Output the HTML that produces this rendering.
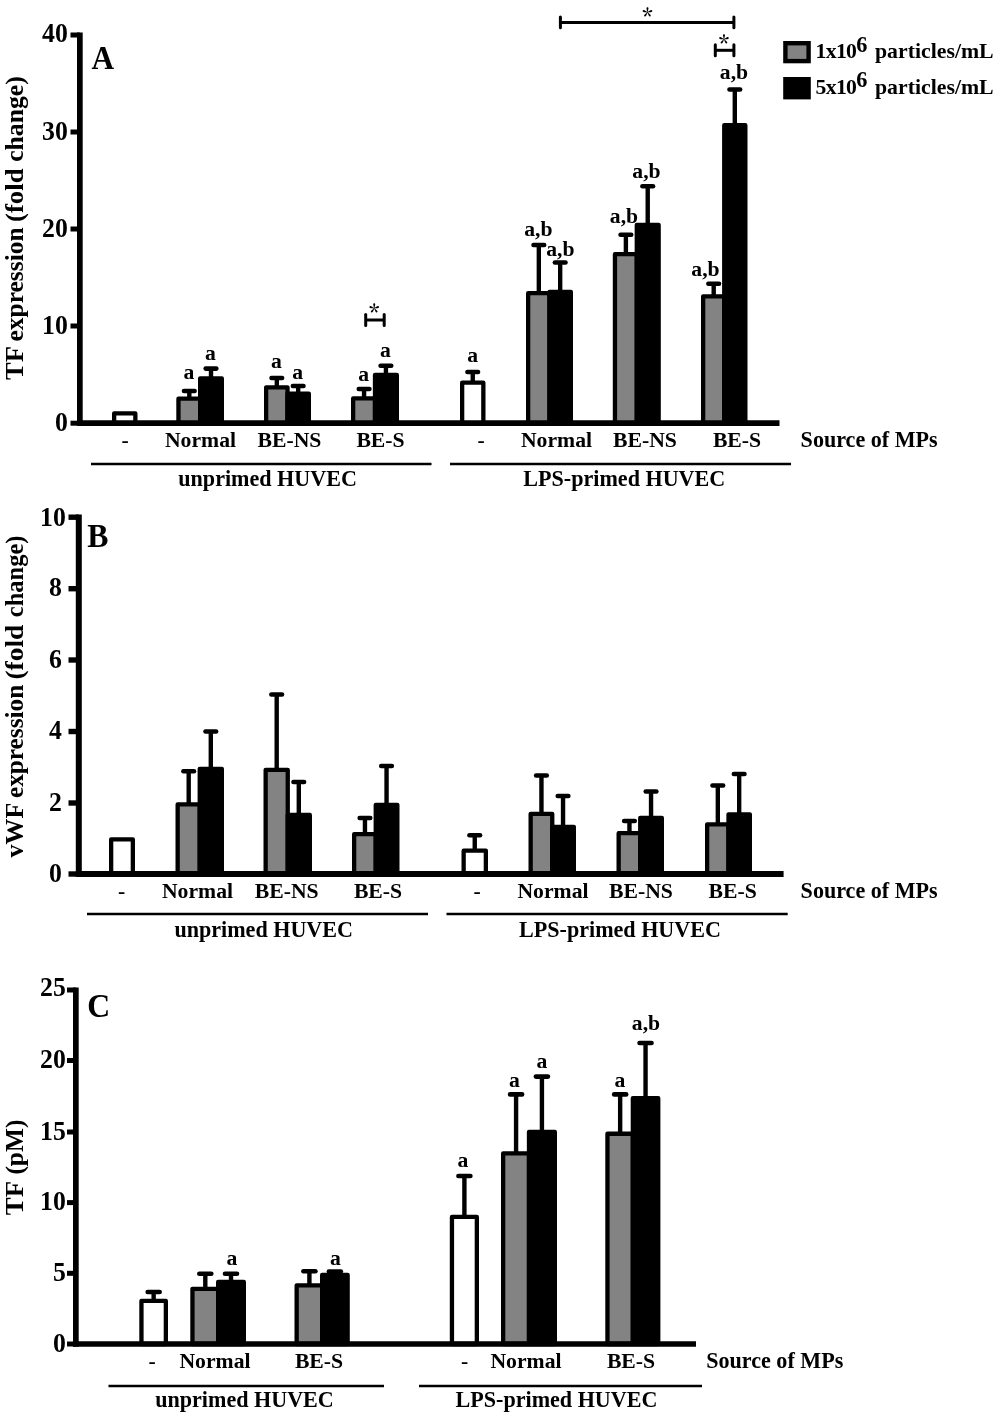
<!DOCTYPE html>
<html lang="en">
<head>
<meta charset="utf-8">
<title>Figure</title>
<style>
html,body{margin:0;padding:0;background:#fff;}
body{width:1000px;height:1418px;overflow:hidden;}
svg{display:block;filter:blur(0.45px);}
svg text{font-family:"Liberation Serif", serif;font-weight:bold;fill:#000;}
</style>
</head>
<body>
<svg width="1000" height="1418" viewBox="0 0 1000 1418">
<rect width="1000" height="1418" fill="#fff"/>
<rect x="114.15" y="413.45" width="21.20" height="9.75" fill="#fff" stroke="#000" stroke-width="4.3" stroke-linejoin="round"/>
<line x1="189.30" y1="391.00" x2="189.30" y2="397.50" stroke="#000" stroke-width="4.4"/>
<line x1="184.00" y1="391.00" x2="194.60" y2="391.00" stroke="#000" stroke-width="4.6" stroke-linecap="round"/>
<line x1="211.00" y1="368.60" x2="211.00" y2="377.30" stroke="#000" stroke-width="4.4"/>
<line x1="205.70" y1="368.60" x2="216.30" y2="368.60" stroke="#000" stroke-width="4.6" stroke-linecap="round"/>
<rect x="178.45" y="398.65" width="21.70" height="24.55" fill="#838383" stroke="#000" stroke-width="4.3" stroke-linejoin="round"/>
<rect x="200.15" y="378.45" width="21.70" height="44.75" fill="#000" stroke="#000" stroke-width="4.3" stroke-linejoin="round"/>
<text x="188.80" y="379.10" font-size="21.7" text-anchor="middle">a</text>
<text x="210.50" y="359.50" font-size="21.7" text-anchor="middle">a</text>
<line x1="276.82" y1="378.00" x2="276.82" y2="386.20" stroke="#000" stroke-width="4.4"/>
<line x1="271.52" y1="378.00" x2="282.12" y2="378.00" stroke="#000" stroke-width="4.6" stroke-linecap="round"/>
<line x1="298.18" y1="386.00" x2="298.18" y2="392.50" stroke="#000" stroke-width="4.4"/>
<line x1="292.88" y1="386.00" x2="303.48" y2="386.00" stroke="#000" stroke-width="4.6" stroke-linecap="round"/>
<rect x="266.15" y="387.35" width="21.35" height="35.85" fill="#838383" stroke="#000" stroke-width="4.3" stroke-linejoin="round"/>
<rect x="287.50" y="393.65" width="21.35" height="29.55" fill="#000" stroke="#000" stroke-width="4.3" stroke-linejoin="round"/>
<text x="276.32" y="368.30" font-size="21.7" text-anchor="middle">a</text>
<text x="297.68" y="378.60" font-size="21.7" text-anchor="middle">a</text>
<line x1="364.07" y1="389.00" x2="364.07" y2="397.30" stroke="#000" stroke-width="4.4"/>
<line x1="358.77" y1="389.00" x2="369.38" y2="389.00" stroke="#000" stroke-width="4.6" stroke-linecap="round"/>
<line x1="385.93" y1="365.70" x2="385.93" y2="373.80" stroke="#000" stroke-width="4.4"/>
<line x1="380.62" y1="365.70" x2="391.23" y2="365.70" stroke="#000" stroke-width="4.6" stroke-linecap="round"/>
<rect x="353.15" y="398.45" width="21.85" height="24.75" fill="#838383" stroke="#000" stroke-width="4.3" stroke-linejoin="round"/>
<rect x="375.00" y="374.95" width="21.85" height="48.25" fill="#000" stroke="#000" stroke-width="4.3" stroke-linejoin="round"/>
<text x="363.57" y="380.70" font-size="21.7" text-anchor="middle">a</text>
<text x="385.43" y="357.00" font-size="21.7" text-anchor="middle">a</text>
<line x1="472.75" y1="372.00" x2="472.75" y2="381.50" stroke="#000" stroke-width="4.4"/>
<line x1="467.45" y1="372.00" x2="478.05" y2="372.00" stroke="#000" stroke-width="4.6" stroke-linecap="round"/>
<rect x="462.15" y="382.65" width="21.20" height="40.55" fill="#fff" stroke="#000" stroke-width="4.3" stroke-linejoin="round"/>
<text x="472.75" y="362.00" font-size="21.7" text-anchor="middle">a</text>
<line x1="538.83" y1="245.00" x2="538.83" y2="292.00" stroke="#000" stroke-width="4.4"/>
<line x1="533.52" y1="245.00" x2="544.13" y2="245.00" stroke="#000" stroke-width="4.6" stroke-linecap="round"/>
<line x1="560.17" y1="262.50" x2="560.17" y2="290.70" stroke="#000" stroke-width="4.4"/>
<line x1="554.87" y1="262.50" x2="565.48" y2="262.50" stroke="#000" stroke-width="4.6" stroke-linecap="round"/>
<rect x="528.15" y="293.15" width="21.35" height="130.05" fill="#838383" stroke="#000" stroke-width="4.3" stroke-linejoin="round"/>
<rect x="549.50" y="291.85" width="21.35" height="131.35" fill="#000" stroke="#000" stroke-width="4.3" stroke-linejoin="round"/>
<text x="538.33" y="236.20" font-size="21.7" text-anchor="middle">a,b</text>
<text x="560.30" y="256.20" font-size="21.7" text-anchor="middle">a,b</text>
<line x1="625.88" y1="234.80" x2="625.88" y2="253.00" stroke="#000" stroke-width="4.4"/>
<line x1="620.57" y1="234.80" x2="631.18" y2="234.80" stroke="#000" stroke-width="4.6" stroke-linecap="round"/>
<line x1="647.72" y1="186.30" x2="647.72" y2="223.80" stroke="#000" stroke-width="4.4"/>
<line x1="642.42" y1="186.30" x2="653.02" y2="186.30" stroke="#000" stroke-width="4.6" stroke-linecap="round"/>
<rect x="614.95" y="254.15" width="21.85" height="169.05" fill="#838383" stroke="#000" stroke-width="4.3" stroke-linejoin="round"/>
<rect x="636.80" y="224.95" width="21.85" height="198.25" fill="#000" stroke="#000" stroke-width="4.3" stroke-linejoin="round"/>
<text x="624.00" y="222.50" font-size="21.7" text-anchor="middle">a,b</text>
<text x="646.50" y="178.00" font-size="21.7" text-anchor="middle">a,b</text>
<line x1="713.70" y1="283.70" x2="713.70" y2="295.20" stroke="#000" stroke-width="4.4"/>
<line x1="708.40" y1="283.70" x2="719.00" y2="283.70" stroke="#000" stroke-width="4.6" stroke-linecap="round"/>
<line x1="734.80" y1="89.50" x2="734.80" y2="124.00" stroke="#000" stroke-width="4.4"/>
<line x1="729.50" y1="89.50" x2="740.10" y2="89.50" stroke="#000" stroke-width="4.6" stroke-linecap="round"/>
<rect x="703.15" y="296.35" width="21.10" height="126.85" fill="#838383" stroke="#000" stroke-width="4.3" stroke-linejoin="round"/>
<rect x="724.25" y="125.15" width="21.10" height="298.05" fill="#000" stroke="#000" stroke-width="4.3" stroke-linejoin="round"/>
<text x="705.50" y="275.80" font-size="21.7" text-anchor="middle">a,b</text>
<text x="734.00" y="79.00" font-size="21.7" text-anchor="middle">a,b</text>
<line x1="79.85" y1="32.50" x2="79.85" y2="426.05" stroke="#000" stroke-width="5.7"/>
<line x1="77.00" y1="423.20" x2="779.50" y2="423.20" stroke="#000" stroke-width="5.7"/>
<line x1="70.50" y1="35.00" x2="79.85" y2="35.00" stroke="#000" stroke-width="5.0"/>
<text transform="translate(67.80,41.70) scale(0.94,1)" font-size="27.4" text-anchor="end">40</text>
<line x1="70.50" y1="132.00" x2="79.85" y2="132.00" stroke="#000" stroke-width="5.0"/>
<text transform="translate(67.80,139.60) scale(0.94,1)" font-size="27.4" text-anchor="end">30</text>
<line x1="70.50" y1="229.00" x2="79.85" y2="229.00" stroke="#000" stroke-width="5.0"/>
<text transform="translate(67.80,236.60) scale(0.94,1)" font-size="27.4" text-anchor="end">20</text>
<line x1="70.50" y1="326.00" x2="79.85" y2="326.00" stroke="#000" stroke-width="5.0"/>
<text transform="translate(67.80,333.60) scale(0.94,1)" font-size="27.4" text-anchor="end">10</text>
<line x1="70.50" y1="423.20" x2="79.85" y2="423.20" stroke="#000" stroke-width="5.0"/>
<text transform="translate(67.80,430.80) scale(0.94,1)" font-size="27.4" text-anchor="end">0</text>
<text transform="translate(22.90,379.96) rotate(-90) scale(1.0266,1)" font-size="25.8">TF</text>
<text transform="translate(22.90,341.46) rotate(-90) scale(0.9869,1)" font-size="25.8">expression</text>
<text transform="translate(22.90,221.97) rotate(-90) scale(1.0375,1)" font-size="25.8">(fold</text>
<text transform="translate(22.90,161.77) rotate(-90) scale(0.9940,1)" font-size="25.8">change)</text>
<text transform="translate(91.50,69.00) scale(0.935,1)" font-size="33.5" text-anchor="start">A</text>
<line x1="365.70" y1="320.00" x2="384.20" y2="320.00" stroke="#000" stroke-width="3.0"/>
<line x1="365.70" y1="314.60" x2="365.70" y2="325.40" stroke="#000" stroke-width="3.0" stroke-linecap="round"/>
<line x1="384.20" y1="314.60" x2="384.20" y2="325.40" stroke="#000" stroke-width="3.0" stroke-linecap="round"/>
<text x="369.04" y="321.02" font-size="21.5" style="font-family:'Noto Serif CJK SC','Liberation Serif',serif">*</text>
<line x1="560.40" y1="22.40" x2="733.90" y2="22.40" stroke="#000" stroke-width="3.0"/>
<line x1="560.40" y1="17.00" x2="560.40" y2="27.80" stroke="#000" stroke-width="3.0" stroke-linecap="round"/>
<line x1="733.90" y1="17.00" x2="733.90" y2="27.80" stroke="#000" stroke-width="3.0" stroke-linecap="round"/>
<text x="642.14" y="24.72" font-size="21.5" style="font-family:'Noto Serif CJK SC','Liberation Serif',serif">*</text>
<line x1="715.30" y1="50.30" x2="733.90" y2="50.30" stroke="#000" stroke-width="3.0"/>
<line x1="715.30" y1="44.80" x2="715.30" y2="55.80" stroke="#000" stroke-width="3.0" stroke-linecap="round"/>
<line x1="733.90" y1="44.80" x2="733.90" y2="55.80" stroke="#000" stroke-width="3.0" stroke-linecap="round"/>
<text x="718.74" y="51.52" font-size="21.5" style="font-family:'Noto Serif CJK SC','Liberation Serif',serif">*</text>
<text x="125.00" y="446.70" font-size="21.7" text-anchor="middle">-</text>
<text x="200.50" y="446.70" font-size="21.7" text-anchor="middle">Normal</text>
<text x="289.50" y="446.70" font-size="21.7" text-anchor="middle">BE-NS</text>
<text x="380.50" y="446.70" font-size="21.7" text-anchor="middle">BE-S</text>
<text x="481.00" y="446.70" font-size="21.7" text-anchor="middle">-</text>
<text x="556.50" y="446.70" font-size="21.7" text-anchor="middle">Normal</text>
<text x="645.00" y="446.70" font-size="21.7" text-anchor="middle">BE-NS</text>
<text x="737.00" y="446.70" font-size="21.7" text-anchor="middle">BE-S</text>
<text x="800.60" y="446.70" font-size="22.1" text-anchor="start">Source of MPs</text>
<line x1="91.00" y1="464.00" x2="431.50" y2="464.00" stroke="#000" stroke-width="2.6"/>
<line x1="450.00" y1="464.00" x2="791.00" y2="464.00" stroke="#000" stroke-width="2.6"/>
<text x="267.60" y="485.90" font-size="22.1" text-anchor="middle">unprimed HUVEC</text>
<text x="624.30" y="485.60" font-size="22.1" text-anchor="middle">LPS-primed HUVEC</text>
<rect x="785.4" y="43.2" width="23.2" height="17.9" fill="#838383" stroke="#000" stroke-width="4.4"/>
<rect x="783.2" y="77" width="27.6" height="22.4" fill="#000"/>
<text x="815.4" y="58.3" font-size="21.7" letter-spacing="-0.6">1x10</text>
<text x="856.3" y="51.5" font-size="22.3">6</text>
<text x="875" y="58.3" font-size="21.8">particles/mL</text>
<text x="815.4" y="94" font-size="21.7" letter-spacing="-0.6">5x10</text>
<text x="856.3" y="87.2" font-size="22.3">6</text>
<text x="875" y="94" font-size="21.8">particles/mL</text>
<rect x="111.15" y="839.45" width="21.70" height="34.55" fill="#fff" stroke="#000" stroke-width="4.3" stroke-linejoin="round"/>
<line x1="188.70" y1="771.30" x2="188.70" y2="803.30" stroke="#000" stroke-width="4.4"/>
<line x1="183.40" y1="771.30" x2="194.00" y2="771.30" stroke="#000" stroke-width="4.6" stroke-linecap="round"/>
<line x1="210.80" y1="731.50" x2="210.80" y2="767.70" stroke="#000" stroke-width="4.4"/>
<line x1="205.50" y1="731.50" x2="216.10" y2="731.50" stroke="#000" stroke-width="4.6" stroke-linecap="round"/>
<rect x="177.65" y="804.45" width="22.10" height="69.55" fill="#838383" stroke="#000" stroke-width="4.3" stroke-linejoin="round"/>
<rect x="199.75" y="768.85" width="22.10" height="105.15" fill="#000" stroke="#000" stroke-width="4.3" stroke-linejoin="round"/>
<line x1="276.70" y1="694.50" x2="276.70" y2="768.70" stroke="#000" stroke-width="4.4"/>
<line x1="271.40" y1="694.50" x2="282.00" y2="694.50" stroke="#000" stroke-width="4.6" stroke-linecap="round"/>
<line x1="298.80" y1="782.00" x2="298.80" y2="813.80" stroke="#000" stroke-width="4.4"/>
<line x1="293.50" y1="782.00" x2="304.10" y2="782.00" stroke="#000" stroke-width="4.6" stroke-linecap="round"/>
<rect x="265.65" y="769.85" width="22.10" height="104.15" fill="#838383" stroke="#000" stroke-width="4.3" stroke-linejoin="round"/>
<rect x="287.75" y="814.95" width="22.10" height="59.05" fill="#000" stroke="#000" stroke-width="4.3" stroke-linejoin="round"/>
<line x1="364.95" y1="818.00" x2="364.95" y2="833.00" stroke="#000" stroke-width="4.4"/>
<line x1="359.65" y1="818.00" x2="370.25" y2="818.00" stroke="#000" stroke-width="4.6" stroke-linecap="round"/>
<line x1="386.55" y1="766.00" x2="386.55" y2="803.70" stroke="#000" stroke-width="4.4"/>
<line x1="381.25" y1="766.00" x2="391.85" y2="766.00" stroke="#000" stroke-width="4.6" stroke-linecap="round"/>
<rect x="354.15" y="834.15" width="21.60" height="39.85" fill="#838383" stroke="#000" stroke-width="4.3" stroke-linejoin="round"/>
<rect x="375.75" y="804.85" width="21.60" height="69.15" fill="#000" stroke="#000" stroke-width="4.3" stroke-linejoin="round"/>
<line x1="474.75" y1="835.30" x2="474.75" y2="849.50" stroke="#000" stroke-width="4.4"/>
<line x1="469.45" y1="835.30" x2="480.05" y2="835.30" stroke="#000" stroke-width="4.6" stroke-linecap="round"/>
<rect x="463.65" y="850.65" width="22.20" height="23.35" fill="#fff" stroke="#000" stroke-width="4.3" stroke-linejoin="round"/>
<line x1="541.45" y1="775.50" x2="541.45" y2="812.70" stroke="#000" stroke-width="4.4"/>
<line x1="536.15" y1="775.50" x2="546.75" y2="775.50" stroke="#000" stroke-width="4.6" stroke-linecap="round"/>
<line x1="563.05" y1="796.00" x2="563.05" y2="825.70" stroke="#000" stroke-width="4.4"/>
<line x1="557.75" y1="796.00" x2="568.35" y2="796.00" stroke="#000" stroke-width="4.6" stroke-linecap="round"/>
<rect x="530.65" y="813.85" width="21.60" height="60.15" fill="#838383" stroke="#000" stroke-width="4.3" stroke-linejoin="round"/>
<rect x="552.25" y="826.85" width="21.60" height="47.15" fill="#000" stroke="#000" stroke-width="4.3" stroke-linejoin="round"/>
<line x1="629.45" y1="821.00" x2="629.45" y2="832.00" stroke="#000" stroke-width="4.4"/>
<line x1="624.15" y1="821.00" x2="634.75" y2="821.00" stroke="#000" stroke-width="4.6" stroke-linecap="round"/>
<line x1="651.05" y1="791.50" x2="651.05" y2="816.70" stroke="#000" stroke-width="4.4"/>
<line x1="645.75" y1="791.50" x2="656.35" y2="791.50" stroke="#000" stroke-width="4.6" stroke-linecap="round"/>
<rect x="618.65" y="833.15" width="21.60" height="40.85" fill="#838383" stroke="#000" stroke-width="4.3" stroke-linejoin="round"/>
<rect x="640.25" y="817.85" width="21.60" height="56.15" fill="#000" stroke="#000" stroke-width="4.3" stroke-linejoin="round"/>
<line x1="717.83" y1="785.50" x2="717.83" y2="823.20" stroke="#000" stroke-width="4.4"/>
<line x1="712.52" y1="785.50" x2="723.13" y2="785.50" stroke="#000" stroke-width="4.6" stroke-linecap="round"/>
<line x1="739.17" y1="774.00" x2="739.17" y2="813.20" stroke="#000" stroke-width="4.4"/>
<line x1="733.87" y1="774.00" x2="744.48" y2="774.00" stroke="#000" stroke-width="4.6" stroke-linecap="round"/>
<rect x="707.15" y="824.35" width="21.35" height="49.65" fill="#838383" stroke="#000" stroke-width="4.3" stroke-linejoin="round"/>
<rect x="728.50" y="814.35" width="21.35" height="59.65" fill="#000" stroke="#000" stroke-width="4.3" stroke-linejoin="round"/>
<line x1="78.80" y1="514.50" x2="78.80" y2="877.00" stroke="#000" stroke-width="6.0"/>
<line x1="75.80" y1="874.00" x2="783.60" y2="874.00" stroke="#000" stroke-width="6.0"/>
<line x1="68.50" y1="517.20" x2="78.80" y2="517.20" stroke="#000" stroke-width="5.4"/>
<text transform="translate(65.80,526.10) scale(0.94,1)" font-size="27.4" text-anchor="end">10</text>
<line x1="68.50" y1="588.70" x2="78.80" y2="588.70" stroke="#000" stroke-width="5.4"/>
<text transform="translate(62.00,596.30) scale(0.94,1)" font-size="27.4" text-anchor="end">8</text>
<line x1="68.50" y1="660.00" x2="78.80" y2="660.00" stroke="#000" stroke-width="5.4"/>
<text transform="translate(62.00,667.60) scale(0.94,1)" font-size="27.4" text-anchor="end">6</text>
<line x1="68.50" y1="731.50" x2="78.80" y2="731.50" stroke="#000" stroke-width="5.4"/>
<text transform="translate(62.00,739.10) scale(0.94,1)" font-size="27.4" text-anchor="end">4</text>
<line x1="68.50" y1="803.00" x2="78.80" y2="803.00" stroke="#000" stroke-width="5.4"/>
<text transform="translate(62.00,810.60) scale(0.94,1)" font-size="27.4" text-anchor="end">2</text>
<line x1="68.50" y1="874.00" x2="78.80" y2="874.00" stroke="#000" stroke-width="5.4"/>
<text transform="translate(62.00,881.60) scale(0.94,1)" font-size="27.4" text-anchor="end">0</text>
<text transform="translate(22.90,857.40) rotate(-90) scale(1.0036,1)" font-size="25.8">vWF</text>
<text transform="translate(22.90,798.06) rotate(-90) scale(0.9799,1)" font-size="25.8">expression</text>
<text transform="translate(22.90,679.60) rotate(-90) scale(1.0653,1)" font-size="25.8">(fold</text>
<text transform="translate(22.90,617.13) rotate(-90) scale(0.9488,1)" font-size="25.8">change)</text>
<text transform="translate(87.30,547.00) scale(0.935,1)" font-size="34" text-anchor="start">B</text>
<text x="121.50" y="897.50" font-size="21.7" text-anchor="middle">-</text>
<text x="197.50" y="897.50" font-size="21.7" text-anchor="middle">Normal</text>
<text x="286.70" y="897.50" font-size="21.7" text-anchor="middle">BE-NS</text>
<text x="378.00" y="897.50" font-size="21.7" text-anchor="middle">BE-S</text>
<text x="477.00" y="897.50" font-size="21.7" text-anchor="middle">-</text>
<text x="553.00" y="897.50" font-size="21.7" text-anchor="middle">Normal</text>
<text x="641.00" y="897.50" font-size="21.7" text-anchor="middle">BE-NS</text>
<text x="732.70" y="897.50" font-size="21.7" text-anchor="middle">BE-S</text>
<text x="800.60" y="897.50" font-size="22.1" text-anchor="start">Source of MPs</text>
<line x1="87.00" y1="914.00" x2="428.00" y2="914.00" stroke="#000" stroke-width="2.6"/>
<line x1="446.50" y1="914.00" x2="787.70" y2="914.00" stroke="#000" stroke-width="2.6"/>
<text x="263.70" y="936.50" font-size="22.1" text-anchor="middle">unprimed HUVEC</text>
<text x="620.00" y="936.50" font-size="22.1" text-anchor="middle">LPS-primed HUVEC</text>
<line x1="153.65" y1="1292.00" x2="153.65" y2="1299.80" stroke="#000" stroke-width="4.4"/>
<line x1="147.65" y1="1292.00" x2="159.65" y2="1292.00" stroke="#000" stroke-width="4.6" stroke-linecap="round"/>
<rect x="141.45" y="1300.95" width="24.40" height="43.05" fill="#fff" stroke="#000" stroke-width="4.3" stroke-linejoin="round"/>
<line x1="205.30" y1="1273.80" x2="205.30" y2="1287.70" stroke="#000" stroke-width="4.4"/>
<line x1="199.30" y1="1273.80" x2="211.30" y2="1273.80" stroke="#000" stroke-width="4.6" stroke-linecap="round"/>
<line x1="231.00" y1="1273.80" x2="231.00" y2="1280.80" stroke="#000" stroke-width="4.4"/>
<line x1="225.00" y1="1273.80" x2="237.00" y2="1273.80" stroke="#000" stroke-width="4.6" stroke-linecap="round"/>
<rect x="192.45" y="1288.85" width="25.70" height="55.15" fill="#838383" stroke="#000" stroke-width="4.3" stroke-linejoin="round"/>
<rect x="218.15" y="1281.95" width="25.70" height="62.05" fill="#000" stroke="#000" stroke-width="4.3" stroke-linejoin="round"/>
<text x="231.80" y="1264.50" font-size="21.7" text-anchor="middle">a</text>
<line x1="309.40" y1="1271.30" x2="309.40" y2="1284.30" stroke="#000" stroke-width="4.4"/>
<line x1="303.40" y1="1271.30" x2="315.40" y2="1271.30" stroke="#000" stroke-width="4.6" stroke-linecap="round"/>
<line x1="334.90" y1="1271.50" x2="334.90" y2="1273.80" stroke="#000" stroke-width="4.4"/>
<line x1="328.90" y1="1271.50" x2="340.90" y2="1271.50" stroke="#000" stroke-width="4.6" stroke-linecap="round"/>
<rect x="296.65" y="1285.45" width="25.50" height="58.55" fill="#838383" stroke="#000" stroke-width="4.3" stroke-linejoin="round"/>
<rect x="322.15" y="1274.95" width="25.50" height="69.05" fill="#000" stroke="#000" stroke-width="4.3" stroke-linejoin="round"/>
<text x="335.50" y="1264.50" font-size="21.7" text-anchor="middle">a</text>
<line x1="464.40" y1="1176.00" x2="464.40" y2="1215.80" stroke="#000" stroke-width="4.4"/>
<line x1="458.40" y1="1176.00" x2="470.40" y2="1176.00" stroke="#000" stroke-width="4.6" stroke-linecap="round"/>
<rect x="451.95" y="1216.95" width="24.90" height="127.05" fill="#fff" stroke="#000" stroke-width="4.3" stroke-linejoin="round"/>
<text x="463.00" y="1166.50" font-size="21.7" text-anchor="middle">a</text>
<line x1="516.08" y1="1094.40" x2="516.08" y2="1152.30" stroke="#000" stroke-width="4.4"/>
<line x1="510.08" y1="1094.40" x2="522.08" y2="1094.40" stroke="#000" stroke-width="4.6" stroke-linecap="round"/>
<line x1="541.92" y1="1076.60" x2="541.92" y2="1130.80" stroke="#000" stroke-width="4.4"/>
<line x1="535.92" y1="1076.60" x2="547.92" y2="1076.60" stroke="#000" stroke-width="4.6" stroke-linecap="round"/>
<rect x="503.15" y="1153.45" width="25.85" height="190.55" fill="#838383" stroke="#000" stroke-width="4.3" stroke-linejoin="round"/>
<rect x="529.00" y="1131.95" width="25.85" height="212.05" fill="#000" stroke="#000" stroke-width="4.3" stroke-linejoin="round"/>
<text x="514.30" y="1086.80" font-size="21.7" text-anchor="middle">a</text>
<text x="542.00" y="1068.30" font-size="21.7" text-anchor="middle">a</text>
<line x1="620.15" y1="1094.40" x2="620.15" y2="1132.60" stroke="#000" stroke-width="4.4"/>
<line x1="614.15" y1="1094.40" x2="626.15" y2="1094.40" stroke="#000" stroke-width="4.6" stroke-linecap="round"/>
<line x1="645.55" y1="1043.00" x2="645.55" y2="1097.00" stroke="#000" stroke-width="4.4"/>
<line x1="639.55" y1="1043.00" x2="651.55" y2="1043.00" stroke="#000" stroke-width="4.6" stroke-linecap="round"/>
<rect x="607.45" y="1133.75" width="25.40" height="210.25" fill="#838383" stroke="#000" stroke-width="4.3" stroke-linejoin="round"/>
<rect x="632.85" y="1098.15" width="25.40" height="245.85" fill="#000" stroke="#000" stroke-width="4.3" stroke-linejoin="round"/>
<text x="620.00" y="1086.80" font-size="21.7" text-anchor="middle">a</text>
<text x="646.00" y="1030.00" font-size="21.7" text-anchor="middle">a,b</text>
<line x1="75.85" y1="987.50" x2="75.85" y2="1346.85" stroke="#000" stroke-width="5.7"/>
<line x1="73.00" y1="1344.00" x2="696.00" y2="1344.00" stroke="#000" stroke-width="5.7"/>
<line x1="67.00" y1="990.00" x2="75.85" y2="990.00" stroke="#000" stroke-width="5.0"/>
<text transform="translate(65.80,996.40) scale(0.94,1)" font-size="27.4" text-anchor="end">25</text>
<line x1="67.00" y1="1060.50" x2="75.85" y2="1060.50" stroke="#000" stroke-width="5.0"/>
<text transform="translate(65.80,1068.10) scale(0.94,1)" font-size="27.4" text-anchor="end">20</text>
<line x1="67.00" y1="1132.00" x2="75.85" y2="1132.00" stroke="#000" stroke-width="5.0"/>
<text transform="translate(65.80,1139.60) scale(0.94,1)" font-size="27.4" text-anchor="end">15</text>
<line x1="67.00" y1="1202.60" x2="75.85" y2="1202.60" stroke="#000" stroke-width="5.0"/>
<text transform="translate(65.80,1210.20) scale(0.94,1)" font-size="27.4" text-anchor="end">10</text>
<line x1="67.00" y1="1273.30" x2="75.85" y2="1273.30" stroke="#000" stroke-width="5.0"/>
<text transform="translate(65.80,1280.90) scale(0.94,1)" font-size="27.4" text-anchor="end">5</text>
<line x1="67.00" y1="1344.00" x2="75.85" y2="1344.00" stroke="#000" stroke-width="5.0"/>
<text transform="translate(65.80,1351.60) scale(0.94,1)" font-size="27.4" text-anchor="end">0</text>
<text transform="translate(22.75,1215.17) rotate(-90) scale(1.0393,1)" font-size="25.8">TF</text>
<text transform="translate(22.75,1174.62) rotate(-90) scale(0.9843,1)" font-size="25.8">(pM)</text>
<text transform="translate(87.30,1017.30) scale(0.935,1)" font-size="34" text-anchor="start">C</text>
<text x="152.00" y="1367.80" font-size="21.7" text-anchor="middle">-</text>
<text x="215.00" y="1367.80" font-size="21.7" text-anchor="middle">Normal</text>
<text x="319.00" y="1367.80" font-size="21.7" text-anchor="middle">BE-S</text>
<text x="464.50" y="1367.80" font-size="21.7" text-anchor="middle">-</text>
<text x="526.00" y="1367.80" font-size="21.7" text-anchor="middle">Normal</text>
<text x="631.00" y="1367.80" font-size="21.7" text-anchor="middle">BE-S</text>
<text x="706.20" y="1367.80" font-size="22.1" text-anchor="start">Source of MPs</text>
<line x1="108.50" y1="1386.00" x2="384.00" y2="1386.00" stroke="#000" stroke-width="2.6"/>
<line x1="419.00" y1="1386.00" x2="702.00" y2="1386.00" stroke="#000" stroke-width="2.6"/>
<text x="244.50" y="1407.30" font-size="22.1" text-anchor="middle">unprimed HUVEC</text>
<text x="556.50" y="1407.30" font-size="22.1" text-anchor="middle">LPS-primed HUVEC</text>
</svg>
</body>
</html>
